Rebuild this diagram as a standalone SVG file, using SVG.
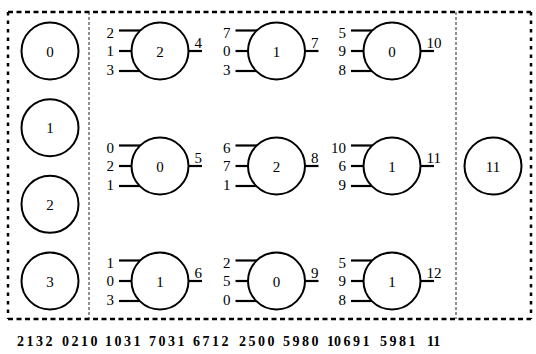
<svg xmlns="http://www.w3.org/2000/svg" width="536" height="354" viewBox="0 0 536 354">
<style>
.c{fill:#fff;stroke:#000;stroke-width:2}
.w{stroke:#000;stroke-width:2.2}
text{font-family:"Liberation Serif","Times New Roman",serif;font-size:15px;fill:#000}
.m{text-anchor:middle}
.e{text-anchor:end}
.b{font-weight:bold;font-size:14px;word-spacing:-1px}
.sep{stroke:#222;stroke-width:1;stroke-dasharray:3 2}
.bh{stroke:#000;stroke-width:2.5;stroke-dasharray:5 3.5}
.bv{stroke:#000;stroke-width:2.5;stroke-dasharray:3.5 5}
</style>
<g id="frame">
<line class="bh" x1="8" y1="12" x2="531" y2="12"/>
<line class="bh" x1="8" y1="319" x2="531" y2="319"/>
<line class="bv" x1="8" y1="12" x2="8" y2="319"/>
<line class="bv" x1="531" y1="12" x2="531" y2="319"/>
<line class="sep" x1="89" y1="12" x2="89" y2="319"/>
<line class="sep" x1="456" y1="12" x2="456" y2="319"/>
</g>
<g id="connectors">
<g transform="translate(160,51)"><line class="w" x1="-41" y1="-20.5" x2="-15" y2="-20.5"/><line class="w" x1="-41" y1="0" x2="-15" y2="0"/><line class="w" x1="-41" y1="20" x2="-15" y2="20"/><line class="w" x1="20" y1="0" x2="42" y2="0"/></g>
<g transform="translate(276.5,51)"><line class="w" x1="-41" y1="-20.5" x2="-15" y2="-20.5"/><line class="w" x1="-41" y1="0" x2="-15" y2="0"/><line class="w" x1="-41" y1="20" x2="-15" y2="20"/><line class="w" x1="20" y1="0" x2="42" y2="0"/></g>
<g transform="translate(392,51)"><line class="w" x1="-41" y1="-20.5" x2="-15" y2="-20.5"/><line class="w" x1="-41" y1="0" x2="-15" y2="0"/><line class="w" x1="-41" y1="20" x2="-15" y2="20"/><line class="w" x1="20" y1="0" x2="42" y2="0"/></g>
<g transform="translate(160,166)"><line class="w" x1="-41" y1="-20.5" x2="-15" y2="-20.5"/><line class="w" x1="-41" y1="0" x2="-15" y2="0"/><line class="w" x1="-41" y1="20" x2="-15" y2="20"/><line class="w" x1="20" y1="0" x2="42" y2="0"/></g>
<g transform="translate(276.5,166)"><line class="w" x1="-41" y1="-20.5" x2="-15" y2="-20.5"/><line class="w" x1="-41" y1="0" x2="-15" y2="0"/><line class="w" x1="-41" y1="20" x2="-15" y2="20"/><line class="w" x1="20" y1="0" x2="42" y2="0"/></g>
<g transform="translate(392,166)"><line class="w" x1="-41" y1="-20.5" x2="-15" y2="-20.5"/><line class="w" x1="-41" y1="0" x2="-15" y2="0"/><line class="w" x1="-41" y1="20" x2="-15" y2="20"/><line class="w" x1="20" y1="0" x2="42" y2="0"/></g>
<g transform="translate(160,281)"><line class="w" x1="-41" y1="-20.5" x2="-15" y2="-20.5"/><line class="w" x1="-41" y1="0" x2="-15" y2="0"/><line class="w" x1="-41" y1="20" x2="-15" y2="20"/><line class="w" x1="20" y1="0" x2="42" y2="0"/></g>
<g transform="translate(276.5,281)"><line class="w" x1="-41" y1="-20.5" x2="-15" y2="-20.5"/><line class="w" x1="-41" y1="0" x2="-15" y2="0"/><line class="w" x1="-41" y1="20" x2="-15" y2="20"/><line class="w" x1="20" y1="0" x2="42" y2="0"/></g>
<g transform="translate(392,281)"><line class="w" x1="-41" y1="-20.5" x2="-15" y2="-20.5"/><line class="w" x1="-41" y1="0" x2="-15" y2="0"/><line class="w" x1="-41" y1="20" x2="-15" y2="20"/><line class="w" x1="20" y1="0" x2="42" y2="0"/></g>
</g>
<g id="in0"><circle class="c" cx="50" cy="51" r="28.5"/><text class="m" x="50" y="56.5">0</text></g>
<g id="in1"><circle class="c" cx="50" cy="127.7" r="28.5"/><text class="m" x="50" y="133.2">1</text></g>
<g id="in2"><circle class="c" cx="50" cy="204.3" r="28.5"/><text class="m" x="50" y="209.8">2</text></g>
<g id="in3"><circle class="c" cx="50" cy="281" r="28.5"/><text class="m" x="50" y="286.5">3</text></g>
<g id="n4" transform="translate(160,51)"><circle class="c" r="28.5"/><text class="m" y="5.5">2</text><text class="e" x="-46" y="-13">2</text><text class="e" x="-46" y="5">1</text><text class="e" x="-46" y="23.5">3</text><text x="34.5" y="-3.5">4</text></g>
<g id="n7" transform="translate(276.5,51)"><circle class="c" r="28.5"/><text class="m" y="5.5">1</text><text class="e" x="-46" y="-13">7</text><text class="e" x="-46" y="5">0</text><text class="e" x="-46" y="23.5">3</text><text x="34.5" y="-3.5">7</text></g>
<g id="n10" transform="translate(392,51)"><circle class="c" r="28.5"/><text class="m" y="5.5">0</text><text class="e" x="-46" y="-13">5</text><text class="e" x="-46" y="5">9</text><text class="e" x="-46" y="23.5">8</text><text x="34.5" y="-3.5">10</text></g>
<g id="n5" transform="translate(160,166)"><circle class="c" r="28.5"/><text class="m" y="5.5">0</text><text class="e" x="-46" y="-13">0</text><text class="e" x="-46" y="5">2</text><text class="e" x="-46" y="23.5">1</text><text x="34.5" y="-3.5">5</text></g>
<g id="n8" transform="translate(276.5,166)"><circle class="c" r="28.5"/><text class="m" y="5.5">2</text><text class="e" x="-46" y="-13">6</text><text class="e" x="-46" y="5">7</text><text class="e" x="-46" y="23.5">1</text><text x="34.5" y="-3.5">8</text></g>
<g id="n11" transform="translate(392,166)"><circle class="c" r="28.5"/><text class="m" y="5.5">1</text><text class="e" x="-46" y="-13">10</text><text class="e" x="-46" y="5">6</text><text class="e" x="-46" y="23.5">9</text><text x="34.5" y="-3.5">11</text></g>
<g id="n6" transform="translate(160,281)"><circle class="c" r="28.5"/><text class="m" y="5.5">1</text><text class="e" x="-46" y="-13">1</text><text class="e" x="-46" y="5">0</text><text class="e" x="-46" y="23.5">3</text><text x="34.5" y="-3.5">6</text></g>
<g id="n9" transform="translate(276.5,281)"><circle class="c" r="28.5"/><text class="m" y="5.5">0</text><text class="e" x="-46" y="-13">2</text><text class="e" x="-46" y="5">5</text><text class="e" x="-46" y="23.5">0</text><text x="34.5" y="-3.5">9</text></g>
<g id="n12" transform="translate(392,281)"><circle class="c" r="28.5"/><text class="m" y="5.5">1</text><text class="e" x="-46" y="-13">5</text><text class="e" x="-46" y="5">9</text><text class="e" x="-46" y="23.5">8</text><text x="34.5" y="-3.5">12</text></g>
<g id="out11"><circle class="c" cx="493" cy="166" r="28.5"/><text class="m" x="493" y="171.5">11</text></g>
<g id="genome">
<text class="b" x="17" y="345.5">2 1 3 2</text>
<text class="b" x="62" y="345.5">0 2 1 0</text>
<text class="b" x="105" y="345.5">1 0 3 1</text>
<text class="b" x="149" y="345.5">7 0 3 1</text>
<text class="b" x="193" y="345.5">6 7 1 2</text>
<text class="b" x="239" y="345.5">2 5 0 0</text>
<text class="b" x="283" y="345.5">5 9 8 0</text>
<text class="b" x="327" y="345.5">10 6 9 1</text>
<text class="b" x="380" y="345.5">5 9 8 1</text>
<text class="b" x="427" y="345.5">11</text>
</g>
</svg>
